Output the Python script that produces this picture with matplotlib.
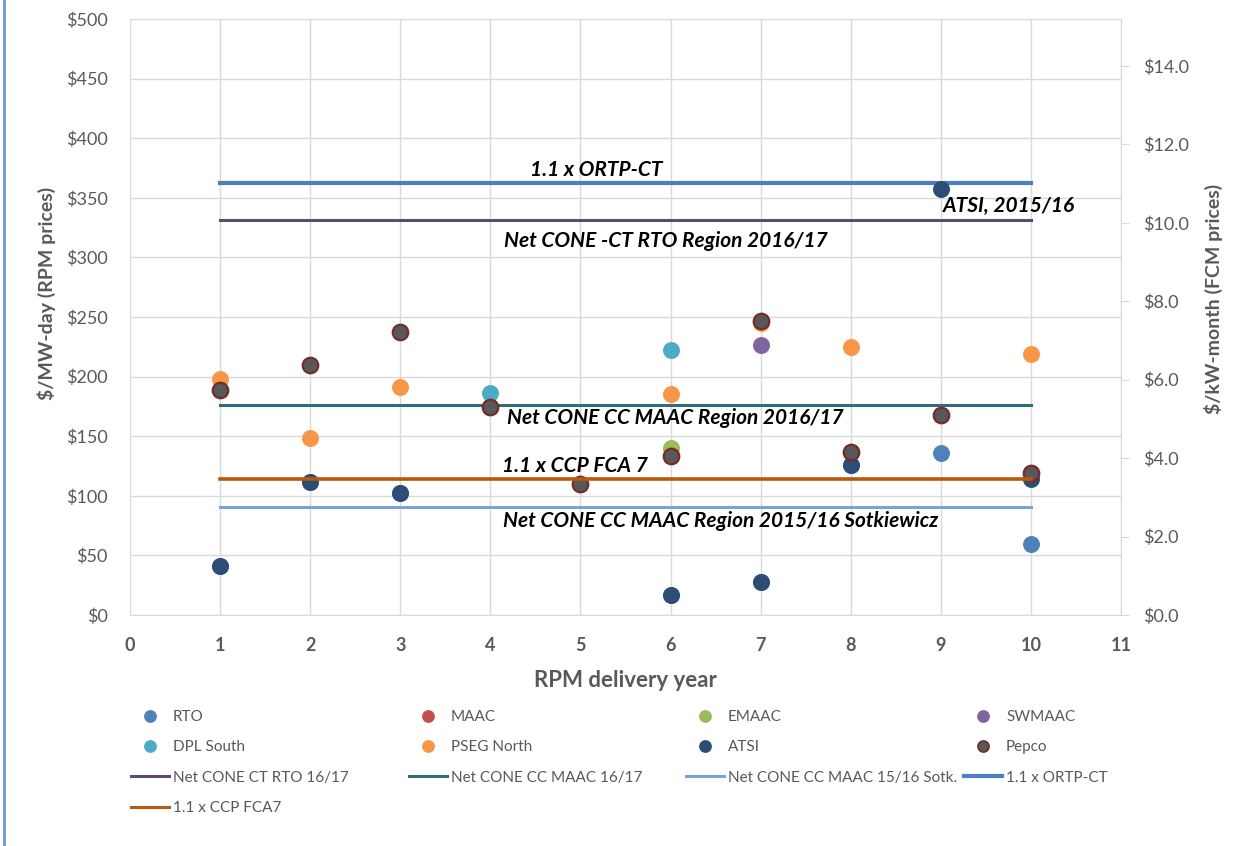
import matplotlib
matplotlib.use("Agg")
import matplotlib.pyplot as plt
from matplotlib.lines import Line2D
from matplotlib.ticker import FuncFormatter

plt.rcParams['font.family'] = ['Lato', 'DejaVu Sans']

# RPM delivery years 1..10
years = [1, 2, 3, 4, 5, 6, 7, 8, 9, 10]

# scatter series ($/MW-day)
rto = [40.8, 111.9, 102.0, 174.3, 110.0, 16.5, 27.7, 126.0, 136.0, 59.4]
maac_x = [4, 5, 6, 7, 8, 9, 10]
maac = [174.3, 110.0, 133.4, 247.0, 136.5, 167.5, 119.1]
emaac_x = [6]
emaac = [139.7]
swmaac_x = [7]
swmaac = [226.2]
dpl_x = [4, 6]
dpl = [186.1, 222.3]
pseg_x = [1, 2, 3, 6, 7, 8, 10]
pseg = [197.7, 148.8, 191.3, 185.0, 245.0, 225.0, 219.0]
atsi_x = [1, 2, 3, 6, 7, 8, 9, 10]
atsi = [40.8, 111.9, 102.0, 16.5, 27.7, 126.0, 357.0, 114.2]
pepco = [188.5, 210.1, 237.3, 174.3, 110.0, 133.4, 247.0, 136.5, 167.5, 119.1]

# reference lines ($/MW-day)
line_x = [1, 10]
net_cone_ct_rto = 331.0
net_cone_cc_maac_1617 = 176.4
net_cone_cc_maac_1516 = 90.3
ortp_ct = 362.4
ccp_fca7 = 113.8

grey = '#595959'
fig = plt.figure(figsize=(12.46, 8.46), dpi=100)
ax = fig.add_axes([130/1246, 1 - 615/846, 991/1246, 596/846])

ax.plot(line_x, [net_cone_ct_rto]*2, color='#5B4A72', lw=2.2, zorder=2)
ax.plot(line_x, [net_cone_cc_maac_1617]*2, color='#2E6E7A', lw=2.2, zorder=2)
ax.plot(line_x, [net_cone_cc_maac_1516]*2, color='#7BA3D6', lw=2.2, zorder=2)
ax.plot(line_x, [ortp_ct]*2, color='#4A7FC0', lw=3, zorder=2)
ax.plot(line_x, [ccp_fca7]*2, color='#B8590E', lw=2.6, zorder=4)

ms = 125
ax.scatter(years, rto, s=ms, color='#4F81BD', zorder=3)
ax.scatter(maac_x, maac, s=ms, color='#C0504D', zorder=3)
ax.scatter(emaac_x, emaac, s=ms, color='#9BBB59', zorder=3)
ax.scatter(swmaac_x, swmaac, s=ms, color='#8064A2', zorder=3)
ax.scatter(dpl_x, dpl, s=ms, color='#4BACC6', zorder=3)
ax.scatter(pseg_x, pseg, s=ms, color='#F79646', zorder=3)
ax.scatter(atsi_x, atsi, s=ms, color='#2C4D75', zorder=3)
ax.scatter(years, pepco, s=ms, color='#585858', edgecolor='#772C2A', lw=1.6, zorder=3)

ax.set_xlim(0, 11)
ax.set_ylim(0, 500)
ax.set_xticks(range(0, 12))
ax.set_yticks(range(0, 501, 50))
ax.yaxis.set_major_formatter(FuncFormatter(lambda v, p: '$%d' % v))
ax.grid(True, color='#D9D9D9', lw=1)
ax.set_axisbelow(True)
for s in ['top', 'left', 'right']:
    ax.spines[s].set_visible(False)
ax.spines['bottom'].set_color('#D9D9D9')
ax.tick_params(axis='both', length=0, colors=grey, labelsize=13)
ax.tick_params(axis='y', pad=16)
ax.tick_params(axis='x', pad=16)
for t in ax.get_xticklabels():
    t.set_fontweight('bold')

ax.set_xlabel('RPM delivery year', fontsize=16, fontweight='bold', color=grey)
ax.xaxis.set_label_coords(0.4995, -0.092)
ax.set_ylabel('$/MW-day (RPM prices)', fontsize=14, fontweight='bold', color=grey)
ax.yaxis.set_label_coords(-0.075, 0.539)

ax2 = ax.twinx()
ax2.set_ylim(0, 500*0.0304)
ax2.set_yticks([0, 2, 4, 6, 8, 10, 12, 14])
ax2.yaxis.set_major_formatter(FuncFormatter(lambda v, p: '$%.1f' % v))
for s in ['top', 'left', 'bottom']:
    ax2.spines[s].set_visible(False)
ax2.spines['right'].set_color('#D9D9D9')
ax2.tick_params(axis='y', length=6, color='#D9D9D9', colors=grey, labelsize=13, pad=10)
ax2.set_ylabel('$/kW-month (FCM prices)', fontsize=14, fontweight='bold', color=grey)
ax2.yaxis.set_label_coords(1.084, 0.53)

tkw = dict(fontsize=15, fontweight='bold', fontstyle='italic', color='black', zorder=5)
ax.text(5.18, 373, '1.1 x ORTP-CT', ha='center', va='center', **tkw)
ax.text(9.02, 343, 'ATSI, 2015/16', ha='left', va='center', **tkw)
ax.text(5.95, 314, 'Net CONE -CT RTO Region 2016/17', ha='center', va='center', **tkw)
ax.text(6.05, 165, 'Net CONE CC MAAC Region 2016/17', ha='center', va='center', **tkw)
ax.text(4.94, 125, '1.1 x CCP FCA 7', ha='center', va='center', **tkw)
ax.text(6.56, 79, 'Net CONE CC MAAC Region 2015/16 Sotkiewicz', ha='center', va='center', **tkw)

# legend, laid out as four columns
def dot(c, ec=None):
    return Line2D([], [], ls='none', marker='o', markersize=8, color=c,
                  markeredgecolor=ec or c, markeredgewidth=1.2)

def seg(c, w=2.2):
    return Line2D([], [], color=c, lw=w)

cols = [
    ([dot('#4F81BD'), dot('#4BACC6'), seg('#5B4A72'), seg('#B8590E')],
     ['RTO', 'DPL South', 'Net CONE CT RTO 16/17', '1.1 x CCP FCA7']),
    ([dot('#C0504D'), dot('#F79646'), seg('#2E6E7A')],
     ['MAAC', 'PSEG North', 'Net CONE CC MAAC 16/17']),
    ([dot('#9BBB59'), dot('#2C4D75'), seg('#7BA3D6')],
     ['EMAAC', 'ATSI', 'Net CONE CC MAAC 15/16 Sotk.']),
    ([dot('#8064A2'), dot('#585858', '#772C2A'), seg('#4A7FC0', 3)],
     ['SWMAAC', 'Pepco', '1.1 x ORTP-CT']),
]
xs = [131, 409, 686, 964]
for x0, (h, l) in zip(xs, cols):
    leg = fig.legend(h, l, loc='upper left', bbox_to_anchor=(x0/1246, 1 - 710/846),
                     frameon=False, fontsize=11, handlelength=2.5, handletextpad=0.25,
                     labelspacing=1.07, borderpad=0, borderaxespad=0)
    for t in leg.get_texts():
        t.set_color(grey)

fig.add_artist(Line2D([4/1246, 4/1246], [0, 1], color='#6F95C9', lw=2))

fig.savefig('out.png', dpi=100)
